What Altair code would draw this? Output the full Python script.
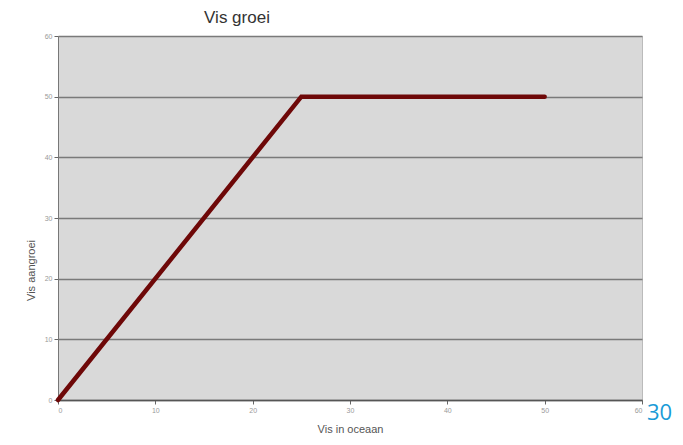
import altair as alt
import pandas as pd

x_vals = [0, 25, 50]
y_vals = [0, 50, 50]

df = pd.DataFrame({"x": x_vals, "y": y_vals})

line = alt.Chart(df).mark_line(color="#6e0808", strokeWidth=4.5, strokeCap="round").encode(
    x=alt.X("x:Q", scale=alt.Scale(domain=[0, 60], nice=False),
            axis=alt.Axis(title="Vis in oceaan", values=[0, 10, 20, 30, 40, 50, 60], grid=False,
                          labelFontSize=7, labelColor="#999", tickColor="#666", tickSize=4,
                          domainColor="#555", domainWidth=1.5, titleFontSize=11, titleColor="#555",
                          titleFontWeight="normal", titleFont="Liberation Sans", titlePadding=10)),
    y=alt.Y("y:Q", scale=alt.Scale(domain=[0, 60], nice=False),
            axis=alt.Axis(title="Vis aangroei", values=[0, 10, 20, 30, 40, 50, 60], grid=True,
                          gridColor="#7a7a7a", gridWidth=1.5, labelFontSize=7, labelColor="#999",
                          tickColor="#666", tickSize=4, domainColor="#777", domainWidth=1,
                          titleFontSize=11, titleColor="#555", titleFontWeight="normal",
                          titleFont="Liberation Sans", titleY=234, titleX=-22)),
)

title = alt.Chart(pd.DataFrame({"t": ["Vis groei"]})).mark_text(
    fontSize=17, font="Liberation Sans", color="#333", align="center", baseline="middle"
).encode(text="t:N", x=alt.value(179), y=alt.value(-18))

page = alt.Chart(pd.DataFrame({"t": ["30"]})).mark_text(
    fontSize=22, font="Open Sans", color="#1a9bd7", align="left", baseline="middle"
).encode(text="t:N", x=alt.value(589), y=alt.value(377))

chart = alt.layer(line, title, page).properties(
    width=584, height=364,
    autosize=alt.AutoSizeParams(type="none"),
    padding={"left": 50, "top": 28, "right": 33, "bottom": 37},
).configure_view(fill="#d9d9d9", stroke="#bbbbbb", strokeWidth=1)

chart.save("out.html", embed_options={"renderer": "svg", "actions": False})
